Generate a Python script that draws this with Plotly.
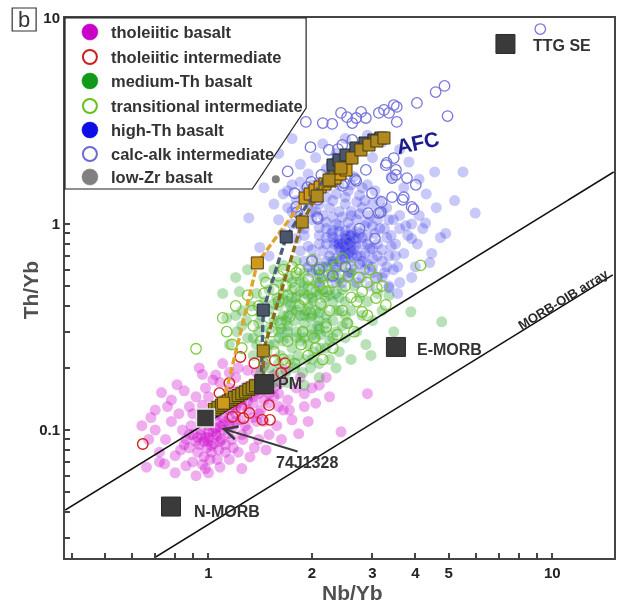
import math
import plotly.graph_objects as go

FONT = "Liberation Sans, Arial, sans-serif"
INK = "#333333"

# ---------------- sample compositions: (Nb/Yb, Th/Yb) ----------------
tholeiitic_basalt = [
    (0.90, 0.095), (0.95, 0.100), (1.00, 0.105), (1.05, 0.110), (0.92, 0.088), (0.98, 0.092), (1.03, 0.098),
    (1.08, 0.104), (1.12, 0.110), (0.88, 0.082), (0.94, 0.085), (1.00, 0.088), (1.06, 0.094), (1.10, 0.100),
    (1.15, 0.115), (1.20, 0.120), (0.86, 0.090), (0.93, 0.078), (0.99, 0.082), (1.04, 0.086), (1.09, 0.090),
    (1.14, 0.096), (1.18, 0.104), (1.24, 0.112), (1.30, 0.125), (0.97, 0.074), (1.02, 0.078), (1.07, 0.080),
    (1.12, 0.085), (1.17, 0.090), (0.90, 0.070), (0.96, 0.068), (1.01, 0.072), (0.84, 0.100), (0.89, 0.105),
    (0.95, 0.112), (1.01, 0.118), (1.07, 0.122), (1.12, 0.128), (1.18, 0.133), (1.25, 0.140), (1.32, 0.148),
    (1.38, 0.155), (1.44, 0.160), (1.10, 0.140), (1.16, 0.148), (1.22, 0.155), (1.28, 0.162), (1.34, 0.168),
    (1.05, 0.130), (0.70, 0.100), (0.72, 0.078), (0.75, 0.090), (0.78, 0.110), (0.80, 0.075), (0.82, 0.120),
    (0.76, 0.130), (0.68, 0.115), (0.66, 0.066), (0.745, 0.0685), (0.86, 0.067), (0.80, 0.062), (0.92, 0.060),
    (1.00, 0.062), (1.08, 0.066), (1.15, 0.072), (1.22, 0.078), (1.32, 0.074), (1.47, 0.080), (0.73, 0.152),
    (0.81, 0.166), (0.96, 0.186), (1.03, 0.175), (2.00, 0.160), (1.75, 0.112), (1.83, 0.096), (1.30, 0.100),
    (1.38, 0.110), (1.42, 0.125), (1.50, 0.135), (1.55, 0.145), (1.60, 0.150), (1.65, 0.125), (1.58, 0.105),
    (1.50, 0.095), (1.40, 0.090), (1.26, 0.090), (1.35, 0.135), (1.48, 0.175), (1.55, 0.185), (1.62, 0.170),
    (1.70, 0.140), (1.90, 0.130), (2.25, 0.145), (2.43, 0.098), (2.90, 0.150), (2.10, 0.165), (2.20, 0.180),
    (1.85, 0.180), (0.88, 0.130), (0.92, 0.145), (0.85, 0.155), (0.98, 0.160), (1.08, 0.170), (1.15, 0.190),
    (1.22, 0.200), (1.10, 0.210), (0.94, 0.200), (1.30, 0.195), (1.38, 0.190), (1.20, 0.180), (0.78, 0.140),
    (0.70, 0.125), (0.64, 0.105), (0.67, 0.090), (0.72, 0.070), (0.83, 0.080), (1.25, 0.065), (1.36, 0.082),
    (1.63, 0.090), (1.72, 0.125), (1.95, 0.110), (2.05, 0.135), (1.90, 0.150), (1.80, 0.160), (1.68, 0.195),
    (1.45, 0.205), (1.05, 0.185), (1.00, 0.145), (0.96, 0.132), (0.90, 0.120), (1.15, 0.160), (1.22, 0.135),
    (0.95, 0.095), (1.00, 0.098), (1.05, 0.102), (1.10, 0.106), (1.00, 0.092), (1.05, 0.096), (0.97, 0.088),
    (1.02, 0.084), (1.08, 0.088), (1.15, 0.105), (1.20, 0.110), (1.10, 0.115), (1.05, 0.118), (1.15, 0.125),
    (1.20, 0.128), (1.25, 0.132), (1.30, 0.138), (1.35, 0.145), (1.40, 0.150), (0.93, 0.092), (0.88, 0.095),
    (0.85, 0.085), (1.12, 0.078), (1.06, 0.072), (0.98, 0.065), (1.18, 0.082), (1.25, 0.095), (1.28, 0.105),
    (1.35, 0.115), (1.40, 0.120), (1.45, 0.140), (1.50, 0.150), (1.55, 0.160), (1.60, 0.130), (1.45, 0.110),
]

tholeiitic_intermediate = [
    (0.644, 0.0855), (1.238, 0.226), (1.36, 0.211), (1.56, 0.218), (1.67, 0.211), (1.15, 0.169),
    (1.076, 0.151), (1.246, 0.128), (1.315, 0.121), (1.174, 0.116), (1.263, 0.114), (1.434, 0.112),
    (1.51, 0.112), (1.628, 0.189), (1.50, 0.132),
]

medium_th_basalt = [
    (1.60, 0.30), (1.70, 0.32), (1.80, 0.30), (1.90, 0.33), (2.00, 0.31), (2.10, 0.34), (1.65, 0.36),
    (1.75, 0.38), (1.85, 0.36), (1.95, 0.40), (2.05, 0.38), (2.15, 0.40), (1.55, 0.26), (1.65, 0.27),
    (1.75, 0.25), (1.85, 0.27), (1.95, 0.26), (2.05, 0.28), (2.20, 0.30), (1.70, 0.42), (1.80, 0.44),
    (1.90, 0.46), (2.00, 0.44), (2.10, 0.46), (2.20, 0.36), (2.30, 0.34), (1.60, 0.40), (1.55, 0.34),
    (1.50, 0.31), (1.62, 0.23), (1.72, 0.22), (1.82, 0.23), (1.92, 0.22), (2.02, 0.24), (2.12, 0.25),
    (2.25, 0.27), (2.35, 0.30), (2.40, 0.38), (2.30, 0.42), (2.25, 0.48), (1.95, 0.50), (1.85, 0.52),
    (1.75, 0.48), (1.65, 0.46), (1.58, 0.44), (2.05, 0.52), (2.15, 0.54), (1.70, 0.28), (1.78, 0.34),
    (1.88, 0.30), (1.98, 0.35), (2.08, 0.32), (1.68, 0.34), (1.92, 0.38), (2.18, 0.44), (1.83, 0.41),
    (2.02, 0.42), (1.73, 0.40), (1.63, 0.31), (2.12, 0.29), (1.45, 0.22), (1.50, 0.20), (1.58, 0.19),
    (1.68, 0.19), (1.78, 0.20), (1.88, 0.19), (1.98, 0.20), (2.10, 0.21), (2.25, 0.22), (2.40, 0.24),
    (2.50, 0.28), (2.55, 0.33), (2.60, 0.38), (2.50, 0.42), (2.45, 0.48), (2.40, 0.54), (2.30, 0.58),
    (2.20, 0.62), (2.05, 0.60), (1.90, 0.58), (1.80, 0.56), (1.70, 0.55), (1.60, 0.52), (1.50, 0.48),
    (1.45, 0.42), (1.42, 0.36), (1.40, 0.30), (1.38, 0.26), (1.35, 0.23), (1.30, 0.28), (1.29, 0.34),
    (1.33, 0.40), (1.38, 0.46), (1.45, 0.55), (1.55, 0.60), (1.65, 0.63), (1.23, 0.47), (1.10, 0.46),
    (1.21, 0.30), (1.15, 0.26), (1.13, 0.35), (1.25, 0.38), (2.70, 0.30), (2.80, 0.36), (2.75, 0.44),
    (2.65, 0.50), (2.60, 0.58), (2.90, 0.42), (3.00, 0.34), (2.87, 0.26), (2.97, 0.23), (3.20, 0.38),
    (3.10, 0.46), (2.35, 0.20), (2.60, 0.22), (1.70, 0.17), (1.90, 0.165), (2.10, 0.18), (1.55, 0.17),
    (1.42, 0.19), (3.88, 0.375), (4.77, 0.335), (3.46, 0.30), (3.53, 0.26), (1.80, 0.66), (2.30, 0.66),
    (1.20, 0.55), (1.30, 0.60), (3.35, 0.45),
    (1.50, 0.26), (1.60, 0.28), (1.70, 0.30), (1.80, 0.28), (1.90, 0.28), (2.00, 0.29), (2.10, 0.31),
    (1.60, 0.34), (1.70, 0.36), (1.80, 0.38), (1.90, 0.36), (2.00, 0.36), (2.10, 0.37), (2.20, 0.33),
    (1.50, 0.38), (1.55, 0.41), (1.65, 0.43), (1.75, 0.44), (1.85, 0.47), (1.95, 0.45), (2.05, 0.47),
    (2.15, 0.48), (2.25, 0.45), (2.35, 0.46), (2.35, 0.38), (2.45, 0.32), (2.30, 0.28), (2.20, 0.25),
    (2.00, 0.22), (1.80, 0.21), (1.60, 0.21), (1.48, 0.24), (1.40, 0.33), (1.45, 0.38), (1.35, 0.28),
    (1.25, 0.32), (1.20, 0.36), (1.75, 0.52), (1.90, 0.52), (2.10, 0.57), (2.40, 0.44), (2.50, 0.36),
]

transitional_intermediate = [
    (0.92, 0.248), (1.13, 0.30), (1.17, 0.26), (1.34, 0.38), (1.45, 0.46), (1.47, 0.52), (1.60, 0.56),
    (1.80, 0.58), (1.68, 0.50), (1.53, 0.30), (1.84, 0.40), (1.72, 0.355), (2.00, 0.67), (2.45, 0.68),
    (1.84, 0.60), (2.10, 0.61), (2.24, 0.565), (2.60, 0.62), (2.74, 0.55), (2.89, 0.52), (3.07, 0.55),
    (3.09, 0.49), (2.80, 0.47), (4.14, 0.63), (3.28, 0.405), (3.07, 0.437), (2.53, 0.33), (2.37, 0.29),
    (2.03, 0.28), (1.86, 0.26), (2.20, 0.316), (2.80, 0.375), (2.60, 0.44), (1.50, 0.35), (1.60, 0.42),
    (1.70, 0.45), (1.90, 0.43), (2.00, 0.48), (2.10, 0.50), (2.20, 0.47), (2.30, 0.52), (2.40, 0.57),
    (2.50, 0.50), (2.35, 0.62), (2.15, 0.56), (1.95, 0.54), (1.75, 0.62), (1.65, 0.60), (1.55, 0.48),
    (1.40, 0.40), (1.35, 0.32), (1.42, 0.27), (1.55, 0.24), (1.65, 0.22), (1.78, 0.21), (1.95, 0.23),
    (2.15, 0.22), (2.30, 0.25), (2.45, 0.38), (2.70, 0.42), (2.90, 0.36), (2.65, 0.30), (1.25, 0.25),
    (1.30, 0.45), (1.20, 0.40), (1.10, 0.35), (1.98, 0.37), (2.12, 0.41), (1.78, 0.49), (1.62, 0.33),
    (1.88, 0.30), (2.25, 0.38), (2.55, 0.56), (2.95, 0.60), (3.20, 0.50), (1.45, 0.21), (1.70, 0.27),
    (2.05, 0.25),
]

high_th_basalt = [
    (2.30, 0.75), (2.40, 0.80), (2.50, 0.78), (2.60, 0.82), (2.45, 0.70), (2.55, 0.72), (2.65, 0.75),
    (2.35, 0.68), (2.70, 0.85), (2.80, 0.80), (2.50, 0.88), (2.40, 0.92), (2.30, 0.86), (2.20, 0.80),
    (2.60, 0.95), (2.75, 0.90), (2.85, 0.72), (2.90, 0.88), (2.25, 0.70), (2.15, 0.74), (2.45, 0.62),
    (2.60, 0.66), (2.75, 0.64), (2.35, 0.60), (2.55, 0.58), (2.95, 0.76), (3.00, 0.68), (2.10, 0.88),
    (2.20, 0.95), (2.35, 1.00), (2.55, 1.02), (2.70, 1.05), (2.85, 0.98), (3.05, 0.90), (3.10, 0.80),
    (2.05, 0.68), (2.15, 0.62), (2.65, 0.60), (2.85, 0.60), (3.00, 0.58), (2.40, 0.84), (2.52, 0.84),
    (2.62, 0.70), (2.48, 0.76), (2.58, 0.88), (2.32, 0.80), (2.42, 0.74), (2.68, 0.78), (2.78, 0.70),
    (2.28, 0.90), (1.80, 0.85), (1.90, 0.95), (1.95, 0.78), (2.00, 1.05), (1.85, 1.10), (1.75, 1.00),
    (1.70, 1.20), (1.80, 1.30), (1.95, 1.25), (2.05, 1.15), (2.15, 1.10), (2.25, 1.20), (2.40, 1.15),
    (2.50, 1.25), (2.60, 1.15), (2.80, 1.20), (2.95, 1.10), (3.10, 1.05), (3.25, 0.95), (3.40, 0.88),
    (3.20, 0.75), (3.35, 0.70), (3.50, 0.80), (3.60, 0.95), (3.45, 1.05), (3.30, 1.20), (3.15, 1.30),
    (3.70, 0.72), (3.80, 0.88), (3.90, 1.00), (4.05, 0.80), (4.20, 0.95), (3.55, 0.62), (3.25, 0.58),
    (3.10, 0.55), (2.95, 0.50), (3.35, 0.50), (3.60, 0.52), (2.70, 0.52), (2.45, 0.52), (2.25, 0.55),
    (2.00, 0.58), (1.90, 0.66), (1.85, 0.74), (1.65, 0.90), (1.60, 1.05), (1.55, 1.25), (1.65, 1.40),
    (1.75, 1.55), (1.90, 1.45), (2.05, 1.40), (2.20, 1.35), (2.35, 1.40), (2.55, 1.45), (2.75, 1.38),
    (2.10, 1.60), (2.30, 1.65), (1.95, 1.75), (2.20, 1.85), (2.45, 1.80), (2.65, 1.70), (2.90, 1.55),
    (3.05, 1.45), (1.85, 1.95), (2.05, 2.10), (2.35, 2.20), (2.60, 2.05), (2.80, 2.30), (3.00, 2.10),
    (2.15, 2.45), (1.31, 1.07), (1.41, 0.77), (1.45, 1.50), (1.50, 0.70), (1.40, 1.80), (1.60, 2.20),
    (1.75, 2.60), (3.83, 2.00), (4.55, 1.79), (5.50, 1.79), (5.97, 1.13), (4.60, 1.20), (4.30, 1.40),
    (4.90, 0.90), (5.20, 1.30), (4.40, 0.65), (3.90, 0.55), (3.35, 0.49), (3.55, 0.46), (4.00, 0.62),
    (3.70, 1.50), (4.10, 1.65), (3.40, 1.70), (3.60, 2.30), (2.90, 2.70), (2.50, 2.60), (3.20, 2.50),
    (4.73, 0.86), (4.28, 1.01), (4.46, 0.72),
    (2.00, 0.75), (2.10, 0.80), (2.20, 0.86), (2.30, 0.93), (2.40, 0.98), (2.50, 0.93), (2.60, 0.88),
    (2.70, 0.92), (2.80, 0.86), (2.90, 0.80), (3.00, 0.76), (3.10, 0.70), (3.20, 0.66), (3.30, 0.62),
    (2.20, 0.66), (2.30, 0.64), (2.40, 0.66), (2.50, 0.68), (2.60, 0.74), (2.70, 0.70), (2.80, 0.66),
    (2.90, 0.64), (3.00, 0.62), (2.10, 0.96), (2.20, 1.02), (2.30, 1.08), (2.45, 1.08), (2.60, 1.10),
    (2.75, 1.12), (2.90, 1.02), (3.00, 0.98), (3.15, 0.95), (3.30, 0.86), (3.40, 0.78), (3.50, 0.70),
    (3.45, 0.60), (3.20, 0.55), (2.80, 0.55), (2.55, 0.55), (2.35, 0.52), (2.10, 0.52), (1.95, 0.62),
    (1.90, 0.88), (1.85, 0.98), (2.00, 1.15), (2.10, 1.25), (2.30, 1.30), (2.50, 1.35), (2.70, 1.28),
    (2.85, 1.30), (3.00, 1.25), (3.20, 1.15), (3.35, 1.05), (3.60, 1.10), (3.75, 0.98), (3.90, 0.85),
    (4.10, 1.10), (1.75, 1.15), (1.70, 1.45), (1.85, 1.60), (2.00, 1.55), (2.20, 1.50), (2.40, 1.55),
    (2.60, 1.55), (2.80, 1.50), (2.45, 0.80), (2.55, 0.80), (2.50, 0.72), (2.40, 0.77), (2.60, 0.78),
    (2.50, 0.85), (2.35, 0.82), (2.65, 0.85),
]

calc_alk_intermediate = [
    (1.92, 3.13), (2.15, 3.09), (2.29, 3.06), (2.43, 3.46), (2.53, 3.30), (2.62, 3.09), (2.69, 3.27),
    (2.78, 3.50), (2.87, 3.27), (3.13, 3.46), (3.24, 3.58), (3.35, 3.46), (3.46, 3.78), (3.53, 3.70),
    (3.53, 3.13), (4.04, 3.87), (4.58, 4.37), (4.86, 4.68), (4.96, 3.34), (9.23, 8.84), (1.98, 2.36),
    (2.24, 2.29), (2.38, 2.31), (2.45, 2.42), (2.62, 2.56), (3.28, 1.93), (3.46, 2.09), (3.51, 1.73),
    (2.13, 1.73), (3.30, 1.98), (3.51, 1.83), (3.42, 1.67), (3.78, 1.67), (4.01, 1.55), (3.42, 1.35),
    (3.67, 1.31), (3.90, 1.21), (3.19, 1.28), (2.99, 1.41), (2.91, 1.13), (3.13, 1.13), (2.46, 1.53),
    (2.67, 1.65), (2.87, 1.83), (2.29, 1.96), (1.99, 1.60), (1.80, 1.21), (2.08, 1.31), (2.07, 1.08),
    (1.78, 1.41), (2.48, 1.58), (2.69, 1.62), (3.70, 1.35), (3.95, 1.18), (3.17, 1.14), (2.03, 1.35),
    (1.94, 1.51), (2.08, 1.06), (2.10, 0.60), (2.30, 0.56), (2.50, 0.62), (2.00, 0.66), (2.35, 2.00),
    (2.45, 1.95), (1.81, 1.14), (1.70, 1.80), (2.75, 0.95), (2.55, 0.82), (3.05, 0.85),
]

low_zr_basalt = [(1.57, 1.65)]

# ---------------- AFC model paths ----------------
afc_start = [
    (1.04, 0.126), (1.065, 0.129), (1.09, 0.132), (1.115, 0.135), (1.14, 0.138), (1.165, 0.141),
    (1.19, 0.144), (1.22, 0.147), (1.25, 0.150), (1.28, 0.153), (1.31, 0.157), (1.34, 0.160), (1.37, 0.164),
]
afc_orange = [
    (1.105, 0.135), (1.387, 0.647), (1.910, 1.337), (1.976, 1.398), (2.042, 1.462), (2.112, 1.512),
    (2.183, 1.564), (2.258, 1.617), (2.334, 1.672), (2.413, 1.748), (2.512, 1.828),
]
afc_brown = [
    (1.443, 0.160), (1.443, 0.242), (1.873, 1.023), (2.070, 1.367), (2.242, 1.635), (2.429, 1.870),
    (2.615, 2.091), (2.777, 2.287), (2.930, 2.418), (3.090, 2.528), (3.240, 2.615),
]
afc_slate = [
    (1.424, 0.171), (1.443, 0.382), (1.683, 0.865), (2.303, 1.934), (2.397, 2.045), (2.512, 2.163),
    (2.685, 2.339), (2.852, 2.473), (3.028, 2.557), (3.172, 2.615),
]

# ---------------- reference compositions ----------------
ref_names = ["TTG SE", "E-MORB", "PM", "N-MORB"]
ref_x = [7.31, 3.51, 1.453, 0.778]
ref_y = [7.48, 0.253, 0.167, 0.0425]
ref_label_x = [8.69, 3.98, 1.57, 0.893]
ref_label_y = [7.39, 0.245, 0.169, 0.0404]
sample_74j = (0.98, 0.1144)

# MORB-OIB array boundaries
array_upper_x = [0.383, 15.1]
array_upper_y = [0.0409, 1.788]
array_lower_x = [0.697, 15.0]
array_lower_y = [0.024, 0.566]

x_ticks = [0.4, 0.5, 0.6, 0.7, 0.8, 0.9, 1, 2, 3, 4, 5, 6, 7, 8, 9, 10]
x_labels = {1: "1", 2: "2", 3: "3", 4: "4", 5: "5", 10: "10"}
y_ticks = [0.03, 0.04, 0.05, 0.06, 0.07, 0.08, 0.09, 0.1, 0.2, 0.3, 0.4, 0.5, 0.6, 0.7, 0.8, 0.9,
           1, 2, 3, 4, 5, 6, 7, 8, 9, 10]
y_labels = {0.1: "0.1", 1: "1", 10: "10"}

legend_items = [
    ("tholeiitic basalt", "filled", "#c800c8"),
    ("tholeiitic intermediate", "open", "#cc1f1f"),
    ("medium-Th basalt", "filled", "#11991a"),
    ("transitional intermediate", "open", "#66c21a"),
    ("high-Th basalt", "filled", "#0d0de8"),
    ("calc-alk intermediate", "open", "#6a6ad8"),
    ("low-Zr basalt", "filled", "#808080"),
]


def xs(pts):
    return [p[0] for p in pts]


def ys(pts):
    return [p[1] for p in pts]


fig = go.Figure()


def filled(pts, rgba, size=11):
    fig.add_trace(go.Scatter(x=xs(pts), y=ys(pts), mode="markers", hoverinfo="skip",
                             marker=dict(size=size, color=rgba, line=dict(width=0))))


def hollow(pts, color, size=10.5, width=1.3, opacity=1.0):
    fig.add_trace(go.Scatter(x=xs(pts), y=ys(pts), mode="markers", hoverinfo="skip",
                             opacity=opacity,
                             marker=dict(size=size, symbol="circle-open", color=color,
                                         line=dict(width=width, color=color))))


filled(tholeiitic_basalt, "rgba(205,0,205,0.32)")
filled(medium_th_basalt, "rgba(20,155,20,0.30)")
filled(high_th_basalt, "rgba(25,25,230,0.24)")
hollow(tholeiitic_intermediate, "#d42020", width=1.4)
hollow(transitional_intermediate, "#6cc21e", width=1.3, opacity=0.85)
hollow(calc_alk_intermediate, "#6767d8", width=1.3, opacity=0.9)
filled(low_zr_basalt, "#7f7f7f", size=8)

# MORB-OIB array
for ax_, ay_ in ((array_upper_x, array_upper_y), (array_lower_x, array_lower_y)):
    fig.add_trace(go.Scatter(x=ax_, y=ay_, mode="lines", hoverinfo="skip",
                             line=dict(color="#111111", width=1.6)))

# AFC paths
fig.add_trace(go.Scatter(x=xs(afc_start), y=ys(afc_start), mode="markers", hoverinfo="skip",
                         marker=dict(symbol="square", size=12, color="#9c8416",
                                     line=dict(color="#4a3c0a", width=1))))
for pts, lc, fc, ec in (
    (afc_orange, "#dfa52a", "#cf9a1c", "#4e3d0e"),
    (afc_slate, "#4d5d7c", "#4c566b", "#252c3a"),
    (afc_brown, "#8c6a1c", "#b08a20", "#4e3d0e"),
):
    fig.add_trace(go.Scatter(x=xs(pts), y=ys(pts), mode="lines+markers", hoverinfo="skip",
                             line=dict(color=lc, width=3.4, dash="7px,3px"),
                             marker=dict(symbol="square", size=12, color=fc,
                                         line=dict(color=ec, width=1))))

# Reference compositions
fig.add_trace(go.Scatter(x=ref_x, y=ref_y, mode="markers", hoverinfo="skip",
                         marker=dict(symbol="square", size=19, color="#3a3a3a",
                                     line=dict(color="#2a2a2a", width=1))))
fig.add_trace(go.Scatter(x=[sample_74j[0]], y=[sample_74j[1]], mode="markers", hoverinfo="skip",
                         marker=dict(symbol="square", size=18, color="#3a3a3a",
                                     line=dict(color="#e6e6e6", width=1.5))))

annotations = []
for name, lx, ly in zip(ref_names, ref_label_x, ref_label_y):
    annotations.append(dict(x=math.log10(lx), y=math.log10(ly), xref="x", yref="y", text=name,
                            showarrow=False, xanchor="left", yanchor="middle",
                            font=dict(family=FONT, size=16, color=INK, weight="bold")))

annotations.append(dict(x=math.log10(1.553), y=math.log10(0.0692), xref="x", yref="y", text="74J1328",
                        showarrow=False, xanchor="left", yanchor="middle",
                        font=dict(family=FONT, size=16, color=INK, weight="bold")))
annotations.append(dict(x=math.log10(1.09), y=math.log10(0.102), xref="x", yref="y",
                        ax=math.log10(1.835), ay=math.log10(0.0782), axref="x", ayref="y",
                        text="", showarrow=True, arrowhead=5, arrowsize=1.3, arrowwidth=2,
                        arrowcolor="#3a3a3a", standoff=0))
annotations.append(dict(x=math.log10(4.06), y=math.log10(2.50), xref="x", yref="y", text="AFC",
                        showarrow=False, textangle=-12,
                        font=dict(family=FONT, size=21, color="#1b1b8a", weight="bold")))
annotations.append(dict(x=math.log10(10.76), y=math.log10(0.428), xref="x", yref="y",
                        text="MORB-OIB array", showarrow=False, textangle=-31.6,
                        font=dict(family=FONT, size=13, color="#2a2a2a", weight="bold")))

# axis titles
annotations.append(dict(x=0.524, y=-0.063, xref="paper", yref="paper", text="Nb/Yb",
                        showarrow=False, xanchor="center", yanchor="middle",
                        font=dict(family=FONT, size=21, color="#505050", weight="bold")))
annotations.append(dict(x=-0.0635, y=0.496, xref="paper", yref="paper", text="Th/Yb",
                        showarrow=False, textangle=-90, xanchor="center", yanchor="middle",
                        font=dict(family=FONT, size=21, color="#505050", weight="bold")))
# panel tag
annotations.append(dict(x=-0.0744, y=0.9975, xref="paper", yref="paper", text="b",
                        showarrow=False, xanchor="center", yanchor="middle",
                        font=dict(family=FONT, size=22, color=INK)))

# legend box: pentagon-shaped panel in the upper-left corner
PW, PH = 551.0, 540.0


def px_to_paper(px, py):
    return (px - 65) / PW, (558 - py) / PH


shapes = [
    dict(type="rect", xref="paper", yref="paper", x0=-0.0962, x1=-0.0526, y0=0.9759, y1=1.0185,
         line=dict(color=INK, width=1.2), fillcolor="rgba(0,0,0,0)"),
]
corners = [(65, 18), (307, 18), (307, 108), (253, 189), (65, 189)]
path = " ".join(("M" if i == 0 else "L") + " %.4f %.4f" % px_to_paper(cx, cy)
                for i, (cx, cy) in enumerate(corners)) + " Z"
shapes.append(dict(type="path", xref="paper", yref="paper", path=path, layer="above",
                   fillcolor="white", line=dict(color="#222222", width=1.2)))

row_px = [32, 57, 81, 106, 130, 154, 177]
for (label, kind, col), rp in zip(legend_items, row_px):
    mx, my = px_to_paper(90, rp)
    if kind == "filled":
        shapes.append(dict(type="circle", xref="paper", yref="paper", xsizemode="pixel",
                           ysizemode="pixel", xanchor=mx, yanchor=my, x0=-8, x1=8, y0=-8, y1=8,
                           layer="above", fillcolor=col, line=dict(color=col, width=0.5)))
    else:
        shapes.append(dict(type="circle", xref="paper", yref="paper", xsizemode="pixel",
                           ysizemode="pixel", xanchor=mx, yanchor=my, x0=-7, x1=7, y0=-7, y1=7,
                           layer="above", fillcolor="white", line=dict(color=col, width=2)))
    tx, ty = px_to_paper(109, rp)
    annotations.append(dict(x=tx, y=ty, xref="paper", yref="paper", text=label, showarrow=False,
                            xanchor="left", yanchor="middle",
                            font=dict(family=FONT, size=16.5, color=INK, weight="bold")))

axis_common = dict(type="log", showgrid=False, zeroline=False, showline=True, mirror=True,
                   linecolor="#444444", linewidth=2, ticks="inside", ticklen=5, tickwidth=1.5,
                   tickcolor="#444444",
                   tickfont=dict(family=FONT, size=15, color="#222222", weight="bold"))

fig.update_layout(
    width=617, height=605, autosize=False,
    margin=dict(l=65, r=1, t=18, b=47),
    paper_bgcolor="white", plot_bgcolor="white",
    showlegend=False,
    xaxis=dict(range=[-0.4174, 1.1797], tickmode="array", tickvals=x_ticks,
               ticktext=[x_labels.get(v, "") for v in x_ticks], **axis_common),
    yaxis=dict(range=[-1.6214, 1.0], tickmode="array", tickvals=y_ticks,
               ticktext=[y_labels.get(v, "") for v in y_ticks], **axis_common),
    annotations=annotations,
    shapes=shapes,
)

fig.write_html("out.html")
